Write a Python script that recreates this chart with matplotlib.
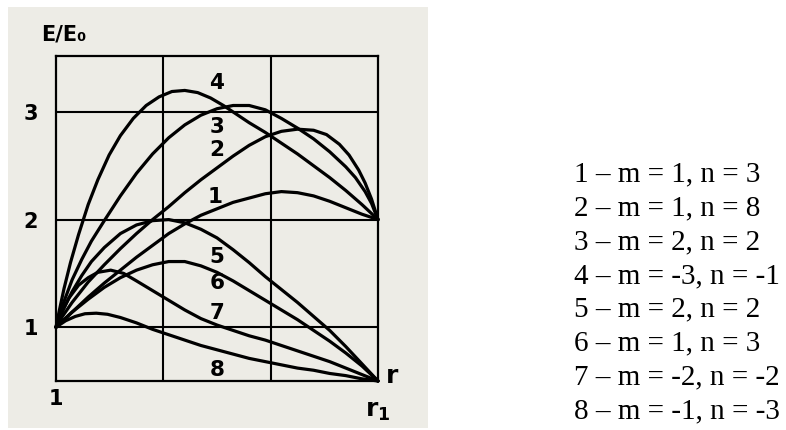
import matplotlib
matplotlib.use("Agg")
import matplotlib.pyplot as plt

# E/E0 along the radius, r normalised so that 0 -> 1 and 1 -> r1
x1 = [0, 0.05, 0.1, 0.15, 0.2, 0.25, 0.3, 0.35, 0.4, 0.45, 0.5, 0.55, 0.6, 0.65, 0.7, 0.75, 0.8, 0.85, 0.9, 0.95, 1.0]
y1 = [1.0, 1.14, 1.28, 1.41, 1.53, 1.65, 1.76, 1.87, 1.96, 2.04, 2.1, 2.16, 2.2, 2.24, 2.26, 2.25, 2.22, 2.17, 2.11, 2.05, 2.0]

x2 = [0, 0.02, 0.05, 0.1, 0.15, 0.2, 0.25, 0.3, 0.35, 0.4, 0.45, 0.5, 0.55, 0.6, 0.65, 0.7, 0.75, 0.8, 0.84, 0.88, 0.91, 0.94, 0.96, 0.98, 1.0]
y2 = [1.0, 1.1, 1.23, 1.42, 1.58, 1.73, 1.87, 2.0, 2.12, 2.25, 2.37, 2.48, 2.59, 2.69, 2.77, 2.82, 2.84, 2.83, 2.79, 2.7, 2.6, 2.46, 2.34, 2.19, 2.0]

x3 = [0, 0.02, 0.05, 0.08, 0.11, 0.15, 0.2, 0.25, 0.3, 0.35, 0.4, 0.45, 0.5, 0.55, 0.6, 0.65, 0.7, 0.75, 0.8, 0.85, 0.9, 0.93, 0.96, 0.98, 1.0]
y3 = [1.0, 1.2, 1.44, 1.63, 1.8, 1.99, 2.22, 2.43, 2.61, 2.76, 2.88, 2.97, 3.03, 3.06, 3.06, 3.02, 2.94, 2.85, 2.75, 2.63, 2.49, 2.39, 2.26, 2.15, 2.0]

x4 = [0, 0.01, 0.025, 0.045, 0.07, 0.1, 0.13, 0.165, 0.2, 0.24, 0.28, 0.32, 0.36, 0.4, 0.44, 0.48, 0.52, 0.56, 0.6, 0.65, 0.7, 0.75, 0.8, 0.85, 0.9, 0.95, 1.0]
y4 = [1.0, 1.15, 1.36, 1.6, 1.86, 2.14, 2.37, 2.6, 2.78, 2.94, 3.06, 3.14, 3.19, 3.2, 3.18, 3.13, 3.06, 2.98, 2.9, 2.81, 2.71, 2.61, 2.5, 2.39, 2.27, 2.14, 2.0]

x5 = [0, 0.025, 0.05, 0.08, 0.11, 0.15, 0.2, 0.25, 0.3, 0.35, 0.4, 0.45, 0.5, 0.55, 0.6, 0.65, 0.7, 0.75, 0.8, 0.85, 0.9, 0.95, 1.0]
y5 = [1.0, 1.18, 1.33, 1.48, 1.61, 1.74, 1.87, 1.95, 1.99, 2.0, 1.97, 1.91, 1.83, 1.72, 1.6, 1.47, 1.35, 1.23, 1.1, 0.97, 0.82, 0.66, 0.5]

x6 = [0, 0.05, 0.1, 0.15, 0.2, 0.25, 0.3, 0.35, 0.4, 0.45, 0.5, 0.55, 0.6, 0.65, 0.7, 0.75, 0.8, 0.85, 0.9, 0.95, 1.0]
y6 = [1.0, 1.14, 1.26, 1.37, 1.46, 1.53, 1.58, 1.61, 1.61, 1.57, 1.51, 1.43, 1.34, 1.25, 1.16, 1.07, 0.97, 0.87, 0.76, 0.64, 0.5]

x7 = [0, 0.02, 0.04, 0.07, 0.1, 0.13, 0.17, 0.21, 0.25, 0.3, 0.35, 0.4, 0.45, 0.5, 0.55, 0.6, 0.65, 0.7, 0.75, 0.8, 0.85, 0.9, 0.95, 1.0]
y7 = [1.0, 1.15, 1.27, 1.39, 1.46, 1.51, 1.53, 1.5, 1.43, 1.34, 1.25, 1.16, 1.08, 1.02, 0.97, 0.92, 0.88, 0.83, 0.78, 0.73, 0.68, 0.62, 0.56, 0.5]

x8 = [0, 0.03, 0.06, 0.09, 0.125, 0.16, 0.2, 0.25, 0.3, 0.35, 0.4, 0.45, 0.5, 0.55, 0.6, 0.65, 0.7, 0.75, 0.8, 0.85, 0.9, 0.95, 1.0]
y8 = [1.0, 1.06, 1.1, 1.125, 1.13, 1.12, 1.09, 1.04, 0.98, 0.93, 0.88, 0.83, 0.79, 0.75, 0.71, 0.68, 0.65, 0.62, 0.6, 0.57, 0.55, 0.52, 0.5]

curve_x = [x1, x2, x3, x4, x5, x6, x7, x8]
curve_y = [y1, y2, y3, y4, y5, y6, y7, y8]

# curve numbers written on the plot
curve_names = ["1", "2", "3", "4", "5", "6", "7", "8"]
name_x = [0.495, 0.5, 0.5, 0.5, 0.5, 0.5, 0.5, 0.5]
name_y = [2.21, 2.65, 2.86, 3.27, 1.65, 1.41, 1.13, 0.6]

y_ticks = [1, 2, 3]
y_ticklabels = ["1", "2", "3"]
grid_x = [1 / 3, 2 / 3]
grid_y = [1, 2, 3]

params = [
    "1 – m = 1, n = 3",
    "2 – m = 1, n = 8",
    "3 – m = 2, n = 2",
    "4 – m = -3, n = -1",
    "5 – m = 2, n = 2",
    "6 – m = 1, n = 3",
    "7 – m = -2, n = -2",
    "8 – m = -1, n = -3",
]

W, H = 786, 430
fig = plt.figure(figsize=(W / 100, H / 100), dpi=100)
fig.patch.set_facecolor("white")

# paper sheet behind the drawing
paper = fig.add_axes([8 / W, 2 / H, 420 / W, 421 / H], zorder=0)
paper.set_facecolor("#edece6")
paper.set_xticks([])
paper.set_yticks([])
for s in paper.spines.values():
    s.set_visible(False)

ax = fig.add_axes([56 / W, (H - 381) / H, 322 / W, 325 / H], zorder=1)
ax.patch.set_alpha(0)
ax.set_xlim(0, 1)
ax.set_ylim(0.5, 3.52)

hand = dict(family="DejaVu Sans", weight="bold", color="black")

for s in ax.spines.values():
    s.set_linewidth(1.6)
    s.set_color("black")
for gx in grid_x:
    ax.axvline(gx, color="black", lw=1.5, zorder=1)
for gy in grid_y:
    ax.axhline(gy, color="black", lw=1.5, zorder=1)

for xs, ys in zip(curve_x, curve_y):
    ax.plot(xs, ys, color="black", lw=2.3, solid_capstyle="round",
            solid_joinstyle="round", clip_on=False, zorder=3)

for name, nx, ny in zip(curve_names, name_x, name_y):
    ax.text(nx, ny, name, ha="center", va="center", fontsize=15.5, zorder=4, **hand)

ax.set_xticks([])
ax.set_yticks(y_ticks)
ax.set_yticklabels(y_ticklabels, fontsize=15, **hand)
ax.tick_params(axis="y", length=0, pad=13)

ax.text(0.0, -0.025, "1", transform=ax.transAxes, ha="center", va="top", fontsize=15, **hand)
ax.text(1.0, -0.055, "r$_\\mathbf{1}$", transform=ax.transAxes, ha="center", va="top",
        fontsize=18, **hand)
ax.text(1.045, 0.015, "r", transform=ax.transAxes, ha="center", va="center", fontsize=18, **hand)
ax.text(-0.045, 1.035, "E/E\u2080", transform=ax.transAxes, ha="left", va="bottom", fontsize=15, **hand)

# parameter list to the right
for i, p in enumerate(params):
    fig.text(574 / W, 1 - (181.7 + 33.75 * i) / H, p, ha="left", va="baseline",
             fontsize=21, family=["Liberation Serif", "DejaVu Serif"], color="black")

fig.savefig("out.png", dpi=100, facecolor=fig.get_facecolor())
